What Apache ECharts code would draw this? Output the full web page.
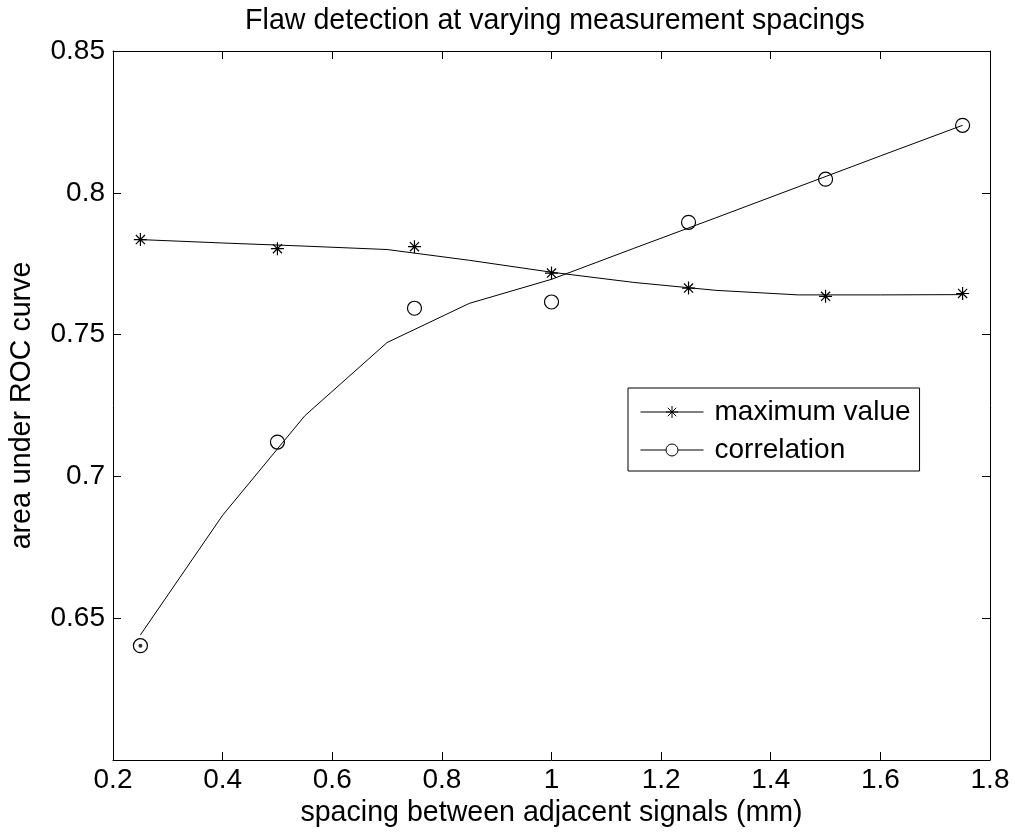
<!DOCTYPE html>
<html>
<head>
<meta charset="utf-8">
<script src="https://cdn.jsdelivr.net/npm/echarts@6/dist/echarts.min.js"></script>
<style>
html,body{margin:0;padding:0;background:#fff;}
#chart{width:1015px;height:833px;}
</style>
</head>
<body>
<div id="chart"></div>
<script>
// ---- data ----
const markerX = [0.25, 0.5, 0.75, 1.0, 1.25, 1.5, 1.75];
const maxValueY = [0.7835, 0.7803, 0.7810, 0.7717, 0.7664, 0.7635, 0.7645];
const correlationY = [0.6403, 0.7121, 0.7593, 0.7615, 0.7896, 0.8048, 0.8238];

const fitX = [0.25, 0.4, 0.55, 0.7, 0.85, 1.0, 1.15, 1.3, 1.45, 1.6, 1.75];
const maxFitY = [0.7835, 0.7823, 0.7812, 0.7800, 0.7762, 0.7720, 0.7684, 0.7656, 0.7640, 0.7640, 0.7641];
const corrFitY = [0.6441, 0.6863, 0.7214, 0.7472, 0.7610, 0.7695, 0.7804, 0.7912, 0.8021, 0.8130, 0.8238];

const dotX = [0.25];
const dotY = [0.6403];

const xTicks = ['0.2', '0.4', '0.6', '0.8', '1', '1.2', '1.4', '1.6', '1.8'];
const yTicks = ['', '0.65', '0.7', '0.75', '0.8', '0.85'];

const titleText = 'Flaw detection at varying measurement spacings';
const xName = 'spacing between adjacent signals (mm)';
const yName = 'area under ROC curve';
const seriesNames = ['maximum value', 'correlation'];

// ---- chart ----
const FONT = 'Liberation Sans, Arial, Helvetica, sans-serif';
const FS = 28;
const FS_NAME = 28.6;
const pair = (xs, ys) => xs.map((x, i) => [x, ys[i]]);
const asterisk = 'path://M0,-1L0,1M-1,0L1,0M-0.7,-0.7L0.7,0.7M-0.7,0.7L0.7,-0.7';

const xMin = 0.2, xMax = 1.8, xStep = 0.2;
const yMin = 0.6, yMax = 0.85, yStep = 0.05;

function xLab(v) {
  const i = Math.round((v - xMin) / xStep);
  return xTicks[i] !== undefined ? xTicks[i] : '';
}
function yLab(v) {
  const i = Math.round((v - yMin) / yStep);
  return yTicks[i] !== undefined ? yTicks[i] : '';
}

const axisLine = {show: true, onZero: false, lineStyle: {color: '#000', width: 1}};
const axisTick = {show: true, inside: true, length: 8, lineStyle: {color: '#000', width: 1}};

const chart = echarts.init(document.getElementById('chart'), null, {renderer: 'canvas'});
chart.setOption({
  animation: false,
  backgroundColor: '#fff',
  title: {
    text: titleText,
    left: 550,
    textAlign: 'center',
    top: 2,
    textStyle: {fontFamily: FONT, fontSize: FS_NAME, fontWeight: 'normal', color: '#000'}
  },
  grid: {left: 111, right: 25, top: 51, bottom: 71, containLabel: false},
  legend: {
    orient: 'vertical',
    left: 628,
    top: 388,
    padding: [10, 9, 7, 12],
    itemGap: 10,
    itemWidth: 63,
    itemHeight: 15,
    borderColor: '#000',
    borderWidth: 1,
    backgroundColor: '#fff',
    textStyle: {fontFamily: FONT, fontSize: FS, color: '#000', lineHeight: 28, padding: [0, 0, 0, 6]},
    data: [
      {name: seriesNames[0], lineStyle: {color: '#000', width: 1, opacity: 1}, itemStyle: {color: 'rgba(0,0,0,0)', borderColor: '#000', borderWidth: 1}},
      {name: seriesNames[1], lineStyle: {color: '#000', width: 1, opacity: 1}, itemStyle: {color: '#fff', borderColor: '#000', borderWidth: 1}}
    ]
  },
  xAxis: [
    {
      type: 'value', position: 'bottom', min: xMin, max: xMax, interval: xStep,
      axisLine, axisTick, splitLine: {show: false},
      axisLabel: {formatter: xLab, fontFamily: FONT, fontSize: FS, color: '#000', margin: 6},
      name: xName, nameLocation: 'middle', nameGap: 39,
      nameTextStyle: {fontFamily: FONT, fontSize: FS_NAME, color: '#000'}
    },
    {
      type: 'value', position: 'top', min: xMin, max: xMax, interval: xStep,
      axisLine, axisTick, splitLine: {show: false}, axisLabel: {show: false}
    }
  ],
  yAxis: [
    {
      type: 'value', position: 'left', min: yMin, max: yMax, interval: yStep,
      axisLine, axisTick, splitLine: {show: false},
      axisLabel: {formatter: yLab, fontFamily: FONT, fontSize: FS, color: '#000', margin: 8},
      name: yName, nameLocation: 'middle', nameGap: 76, nameRotate: 90,
      nameTextStyle: {fontFamily: FONT, fontSize: FS_NAME, color: '#000'}
    },
    {
      type: 'value', position: 'right', min: yMin, max: yMax, interval: yStep,
      axisLine, axisTick, splitLine: {show: false}, axisLabel: {show: false}
    }
  ],
  series: [
    {
      name: 'maximum value fit', type: 'line', data: pair(fitX, maxFitY),
      symbol: 'none', lineStyle: {color: '#000', width: 1}, silent: true, z: 2
    },
    {
      name: 'correlation fit', type: 'line', data: pair(fitX, corrFitY),
      symbol: 'none', lineStyle: {color: '#000', width: 1}, silent: true, z: 2
    },
    {
      name: seriesNames[0], type: 'line', data: pair(markerX, maxValueY),
      symbol: asterisk, symbolSize: 13, showSymbol: true, showAllSymbol: true,
      lineStyle: {width: 0, opacity: 0},
      itemStyle: {color: 'rgba(0,0,0,0)', borderColor: '#000', borderWidth: 1.2},
      emphasis: {disabled: true}, silent: true, z: 3
    },
    {
      name: seriesNames[1], type: 'line', data: pair(markerX, correlationY),
      symbol: 'circle', symbolSize: 14, showSymbol: true, showAllSymbol: true,
      lineStyle: {width: 0, opacity: 0},
      itemStyle: {color: 'rgba(0,0,0,0)', borderColor: '#000', borderWidth: 1.2},
      emphasis: {disabled: true}, silent: true, z: 3
    },
    {
      name: 'dot', type: 'scatter', data: pair(dotX, dotY),
      symbol: 'circle', symbolSize: 4, itemStyle: {color: '#000'}, silent: true, z: 4
    }
  ]
});
</script>
</body>
</html>
